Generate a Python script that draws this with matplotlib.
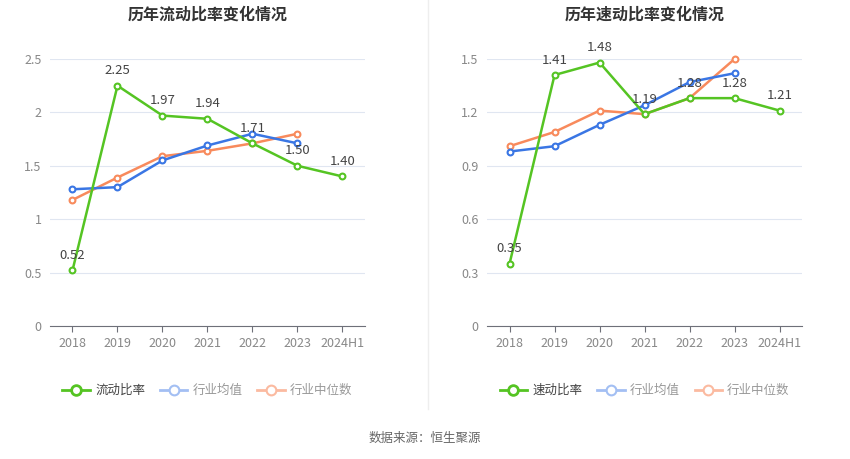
import matplotlib
matplotlib.use("Agg")
import matplotlib.pyplot as plt
from matplotlib.lines import Line2D

plt.rcParams['font.family'] = ['Noto Sans CJK SC', 'DejaVu Sans']

YEARS = ["2018", "2019", "2020", "2021", "2022", "2023", "2024H1"]

# 流动比率
CURRENT = [0.52, 2.25, 1.97, 1.94, 1.71, 1.50, 1.40]
CURRENT_AVG = [1.28, 1.30, 1.55, 1.69, 1.80, 1.71]
CURRENT_MED = [1.18, 1.39, 1.59, 1.64, 1.71, 1.80]

# 速动比率
QUICK = [0.35, 1.41, 1.48, 1.19, 1.28, 1.28, 1.21]
QUICK_AVG = [0.98, 1.01, 1.13, 1.24, 1.37, 1.42]
QUICK_MED = [1.01, 1.09, 1.21, 1.19, 1.28, 1.50]

GREEN = "#55c423"
BLUE = "#3a76e4"
ORANGE = "#f88a5c"


def draw_panel(ax, main, avg, med, yticks, ylabels, title, name):
    x = list(range(len(YEARS)))
    ax.plot(x[:len(med)], med, color=ORANGE, lw=1.8, marker="o", ms=4.2,
            mfc="white", mew=1.5, zorder=3, clip_on=False)
    ax.plot(x[:len(avg)], avg, color=BLUE, lw=1.8, marker="o", ms=4.2,
            mfc="white", mew=1.5, zorder=4, clip_on=False)
    ax.plot(x, main, color=GREEN, lw=1.8, marker="o", ms=4.2,
            mfc="white", mew=1.5, zorder=5, clip_on=False)
    for xi, v in zip(x, main):
        ax.annotate(f"{v:.2f}", (xi, v), xytext=(0, 6), textcoords="offset points",
                    ha="center", va="bottom", fontsize=9.5, color="#444444", zorder=6)
    ax.set_xlim(-0.5, len(YEARS) - 0.5)
    ax.set_ylim(yticks[0], yticks[-1])
    ax.set_xticks(x)
    ax.set_xticklabels(YEARS)
    ax.set_yticks(yticks)
    ax.set_yticklabels(ylabels)
    ax.tick_params(axis="x", colors="#6e7079", labelcolor="#888888", labelsize=9,
                   length=4, width=0.8, pad=4)
    ax.tick_params(axis="y", length=0, labelcolor="#888888", labelsize=9, pad=6)
    ax.grid(axis="y", color="#e0e6f1", lw=0.8)
    ax.set_axisbelow(True)
    for s in ["top", "right", "left"]:
        ax.spines[s].set_visible(False)
    ax.spines["bottom"].set_color("#6e7079")
    ax.set_title(title, fontsize=11.5, fontweight="bold", color="#333333", pad=28)

    handles = [
        Line2D([], [], color=GREEN, lw=2, marker="o", ms=7, mfc="white", mew=2),
        Line2D([], [], color="#a3bff3", lw=2, marker="o", ms=7, mfc="white", mew=1.5),
        Line2D([], [], color="#fbbaa0", lw=2, marker="o", ms=7, mfc="white", mew=1.5),
    ]
    leg = ax.legend(handles, [name, "行业均值", "行业中位数"], loc="upper center",
                    bbox_to_anchor=(0.5, -0.175), ncol=3, frameon=False, fontsize=9,
                    handlelength=2.2, handletextpad=0.4, columnspacing=1.2)
    for i, t in enumerate(leg.get_texts()):
        t.set_color("#444444" if i == 0 else "#999999")


fig = plt.figure(figsize=(8.5, 4.59), dpi=100)
ax1 = fig.add_axes([0.0588, 0.2898, 0.3706, 0.5817])
ax2 = fig.add_axes([0.573, 0.2898, 0.3706, 0.5817])

draw_panel(ax1, CURRENT, CURRENT_AVG, CURRENT_MED,
           [0, 0.5, 1, 1.5, 2, 2.5], ["0", "0.5", "1", "1.5", "2", "2.5"],
           "历年流动比率变化情况", "流动比率")
draw_panel(ax2, QUICK, QUICK_AVG, QUICK_MED,
           [0, 0.3, 0.6, 0.9, 1.2, 1.5], ["0", "0.3", "0.6", "0.9", "1.2", "1.5"],
           "历年速动比率变化情况", "速动比率")

fig.add_artist(Line2D([0.503, 0.503], [0.11, 1.0], color="#eeeeee", lw=1))
fig.text(0.5, 0.045, "数据来源：恒生聚源", ha="center", va="center",
         fontsize=9, color="#666666")

fig.savefig("out.png", dpi=100)
